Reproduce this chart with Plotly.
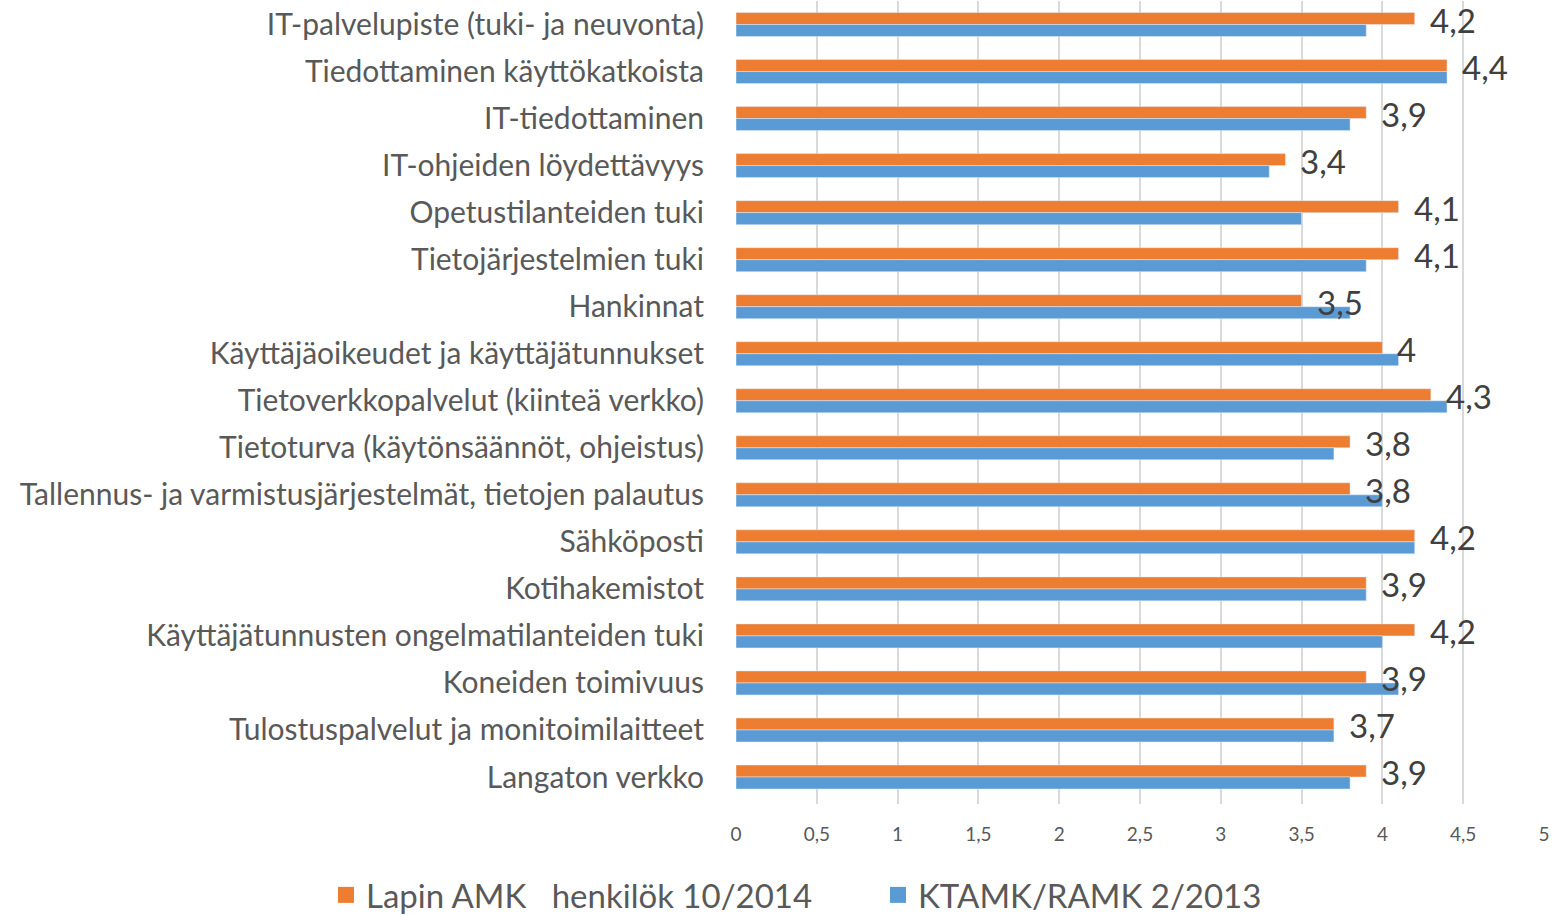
import plotly.graph_objects as go

# Categories (top to bottom) and the two survey series
categories = [
    "IT-palvelupiste (tuki- ja neuvonta)",
    "Tiedottaminen käyttökatkoista",
    "IT-tiedottaminen",
    "IT-ohjeiden löydettävyys",
    "Opetustilanteiden tuki",
    "Tietojärjestelmien tuki",
    "Hankinnat",
    "Käyttäjäoikeudet ja käyttäjätunnukset",
    "Tietoverkkopalvelut (kiinteä verkko)",
    "Tietoturva (käytönsäännöt, ohjeistus)",
    "Tallennus- ja varmistusjärjestelmät, tietojen palautus",
    "Sähköposti",
    "Kotihakemistot",
    "Käyttäjätunnusten ongelmatilanteiden tuki",
    "Koneiden toimivuus",
    "Tulostuspalvelut ja monitoimilaitteet",
    "Langaton verkko",
]
lapin_2014 = [4.2, 4.4, 3.9, 3.4, 4.1, 4.1, 3.5, 4.0, 4.3, 3.8, 3.8, 4.2, 3.9, 4.2, 3.9, 3.7, 3.9]
ktamk_2013 = [3.9, 4.4, 3.8, 3.3, 3.5, 3.9, 3.8, 4.1, 4.4, 3.7, 4.0, 4.2, 3.9, 4.0, 4.1, 3.7, 3.8]

series_names = ["Lapin AMK\u00a0\u00a0 henkilök 10/2014", "KTAMK/RAMK 2/2013"]
colors = ["#ED7D31", "#5B9BD5"]
x_ticks = [0, 0.5, 1, 1.5, 2, 2.5, 3, 3.5, 4, 4.5, 5]


def fmt(v):
    return f"{v:g}".replace(".", ",")


FONT = "Lato, Open Sans, sans-serif"

fig = go.Figure()

for vals, name, col in zip([lapin_2014, ktamk_2013], series_names, colors):
    fig.add_trace(go.Bar(
        y=categories, x=vals, orientation="h",
        name=name, marker=dict(color=col),
        showlegend=False,
    ))

# legend entries with bigger square symbols, one legend box per series
for name, col, lg in zip(series_names, colors, ["legend", "legend2"]):
    fig.add_trace(go.Scatter(
        x=[None], y=[None], mode="markers", name=name,
        marker=dict(symbol="square", size=20, color=col),
        legend=lg,
    ))

# data labels for the orange series, drawn on top of both bars
for cat, v in zip(categories, lapin_2014):
    fig.add_annotation(
        x=v, y=cat, text=fmt(v),
        showarrow=False, xanchor="left", yanchor="middle",
        xshift=13, yshift=5,
        font=dict(size=33, color="#404040", family=FONT),
    )

legend_style = dict(
    orientation="h",
    xref="container", yref="container",
    xanchor="left", y=0.023, yanchor="middle",
    font=dict(size=33, color="#595959"),
    itemwidth=30,
    bgcolor="rgba(0,0,0,0)",
)

fig.update_layout(
    barmode="group",
    bargap=0.49,
    bargroupgap=0,
    width=1552, height=916,
    margin=dict(l=736, r=8, t=1, b=112, autoexpand=False),
    paper_bgcolor="white",
    plot_bgcolor="white",
    separators=", ",
    font=dict(family=FONT, color="#595959"),
    legend=dict(legend_style, x=326 / 1552),
    legend2=dict(legend_style, x=878 / 1552),
)

fig.update_xaxes(
    range=[0, 5],
    tickvals=x_ticks,
    showgrid=True, gridcolor="#D9D9D9", gridwidth=1.5,
    zeroline=False,
    showline=False,
    tickfont=dict(size=19, color="#595959"),
    ticks="",
    ticklabelstandoff=17,
    automargin=False,
)
fig.update_yaxes(
    autorange="reversed",
    showgrid=False,
    tickfont=dict(size=30, color="#595959"),
    ticks="",
    ticklabelstandoff=31,
    automargin=False,
)

# page body has a default 8px margin; remove it so the figure fills the window
fig.write_html(
    "out.html",
    config={"displayModeBar": False},
    post_script="document.body.style.margin='0';",
)
